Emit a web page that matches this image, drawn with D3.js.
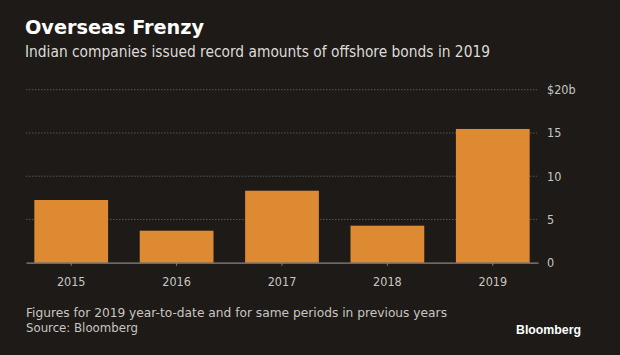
<!DOCTYPE html>
<html><head><meta charset="utf-8">
<script src="https://cdn.jsdelivr.net/npm/d3@7"></script>
<style>
html,body{margin:0;padding:0;background:#1d1a17;}
svg{display:block;}
</style></head>
<body>
<script>
const categories = ["2015","2016","2017","2018","2019"];
const values = [7.25, 3.7, 8.32, 4.28, 15.46];
const yTicks = [0, 5, 10, 15, 20];
const yTickLabels = ["0","5","10","15","$20b"];
const title = "Overseas Frenzy";
const subtitle = "Indian companies issued record amounts of offshore bonds in 2019";
const note = "Figures for 2019 year-to-date and for same periods in previous years";
const source = "Source: Bloomberg";
const brand = "Bloomberg";

const W = 620, H = 355;
const svg = d3.select("body").append("svg").attr("width", W).attr("height", H);
svg.append("rect").attr("width", W).attr("height", H).attr("fill", "#1d1a17");

const font = "'DejaVu Sans Condensed','DejaVu Sans',sans-serif";
const x0 = 26, x1 = 538, yBase = 262.7, yTop = 89.7;
const x = d3.scaleBand().domain(categories).range([x0, x1]).paddingInner(0.3).paddingOuter(0.079);
const y = d3.scaleLinear().domain([0, 20]).range([yBase, yTop]);

// gridlines
svg.append("g").selectAll("line").data(yTicks.filter(d => d > 0)).join("line")
  .attr("x1", x0).attr("x2", x1 - 1)
  .attr("y1", d => y(d)).attr("y2", d => y(d))
  .attr("stroke", "#5a5651").attr("stroke-width", 1).attr("stroke-dasharray", "1.5,1.5");

// bars
svg.append("g").selectAll("rect").data(values).join("rect")
  .attr("x", (d, i) => x(categories[i]))
  .attr("width", x.bandwidth())
  .attr("y", d => y(d))
  .attr("height", d => yBase - y(d))
  .attr("fill", "#de8a32");

// y axis labels
const yAxis = d3.axisRight(y).tickValues(yTicks).tickFormat((d, i) => yTickLabels[i]).tickSize(0).tickPadding(9);
const gy = svg.append("g").attr("transform", `translate(${x1},0)`).call(yAxis);
gy.select(".domain").remove();
gy.selectAll("text").attr("fill", "#c9c6c2").style("font-family", font).style("font-size", "12.5px");

// x axis
const xAxis = d3.axisBottom(x).tickSize(3).tickPadding(11).tickSizeOuter(0);
const gx = svg.append("g").attr("transform", `translate(0,${yBase})`).call(xAxis);
gx.select(".domain").attr("stroke", "#8a8682").attr("stroke-width", 1.2);
gx.selectAll(".tick line").attr("stroke", "#8a8682");
gx.selectAll("text").attr("fill", "#c9c6c2").style("font-family", font).style("font-size", "12.5px");

// title
svg.append("text").attr("x", 25).attr("y", 34).text(title)
  .attr("fill", "#ffffff").style("font-family", font).style("font-size", "19px").style("font-weight", "bold")
  .attr("textLength", 179).attr("lengthAdjust", "spacingAndGlyphs");
svg.append("text").attr("x", 25).attr("y", 57).text(subtitle)
  .attr("fill", "#dedbd7").style("font-family", font).style("font-size", "15px")
  .attr("textLength", 465).attr("lengthAdjust", "spacingAndGlyphs");

// footnotes
svg.append("text").attr("x", 26).attr("y", 317).text(note)
  .attr("fill", "#c9c6c2").style("font-family", font).style("font-size", "13px")
  .attr("textLength", 421).attr("lengthAdjust", "spacingAndGlyphs");
svg.append("text").attr("x", 26).attr("y", 331.5).text(source)
  .attr("fill", "#c9c6c2").style("font-family", font).style("font-size", "13px")
  .attr("textLength", 112).attr("lengthAdjust", "spacingAndGlyphs");
svg.append("text").attr("x", 581).attr("y", 333.5).attr("text-anchor", "end").text(brand)
  .attr("fill", "#ffffff").style("font-family", "'Liberation Sans',Arial,sans-serif").style("font-size", "12.5px").style("font-weight", "bold")
  .attr("textLength", 65).attr("lengthAdjust", "spacingAndGlyphs");
</script>
</body></html>
